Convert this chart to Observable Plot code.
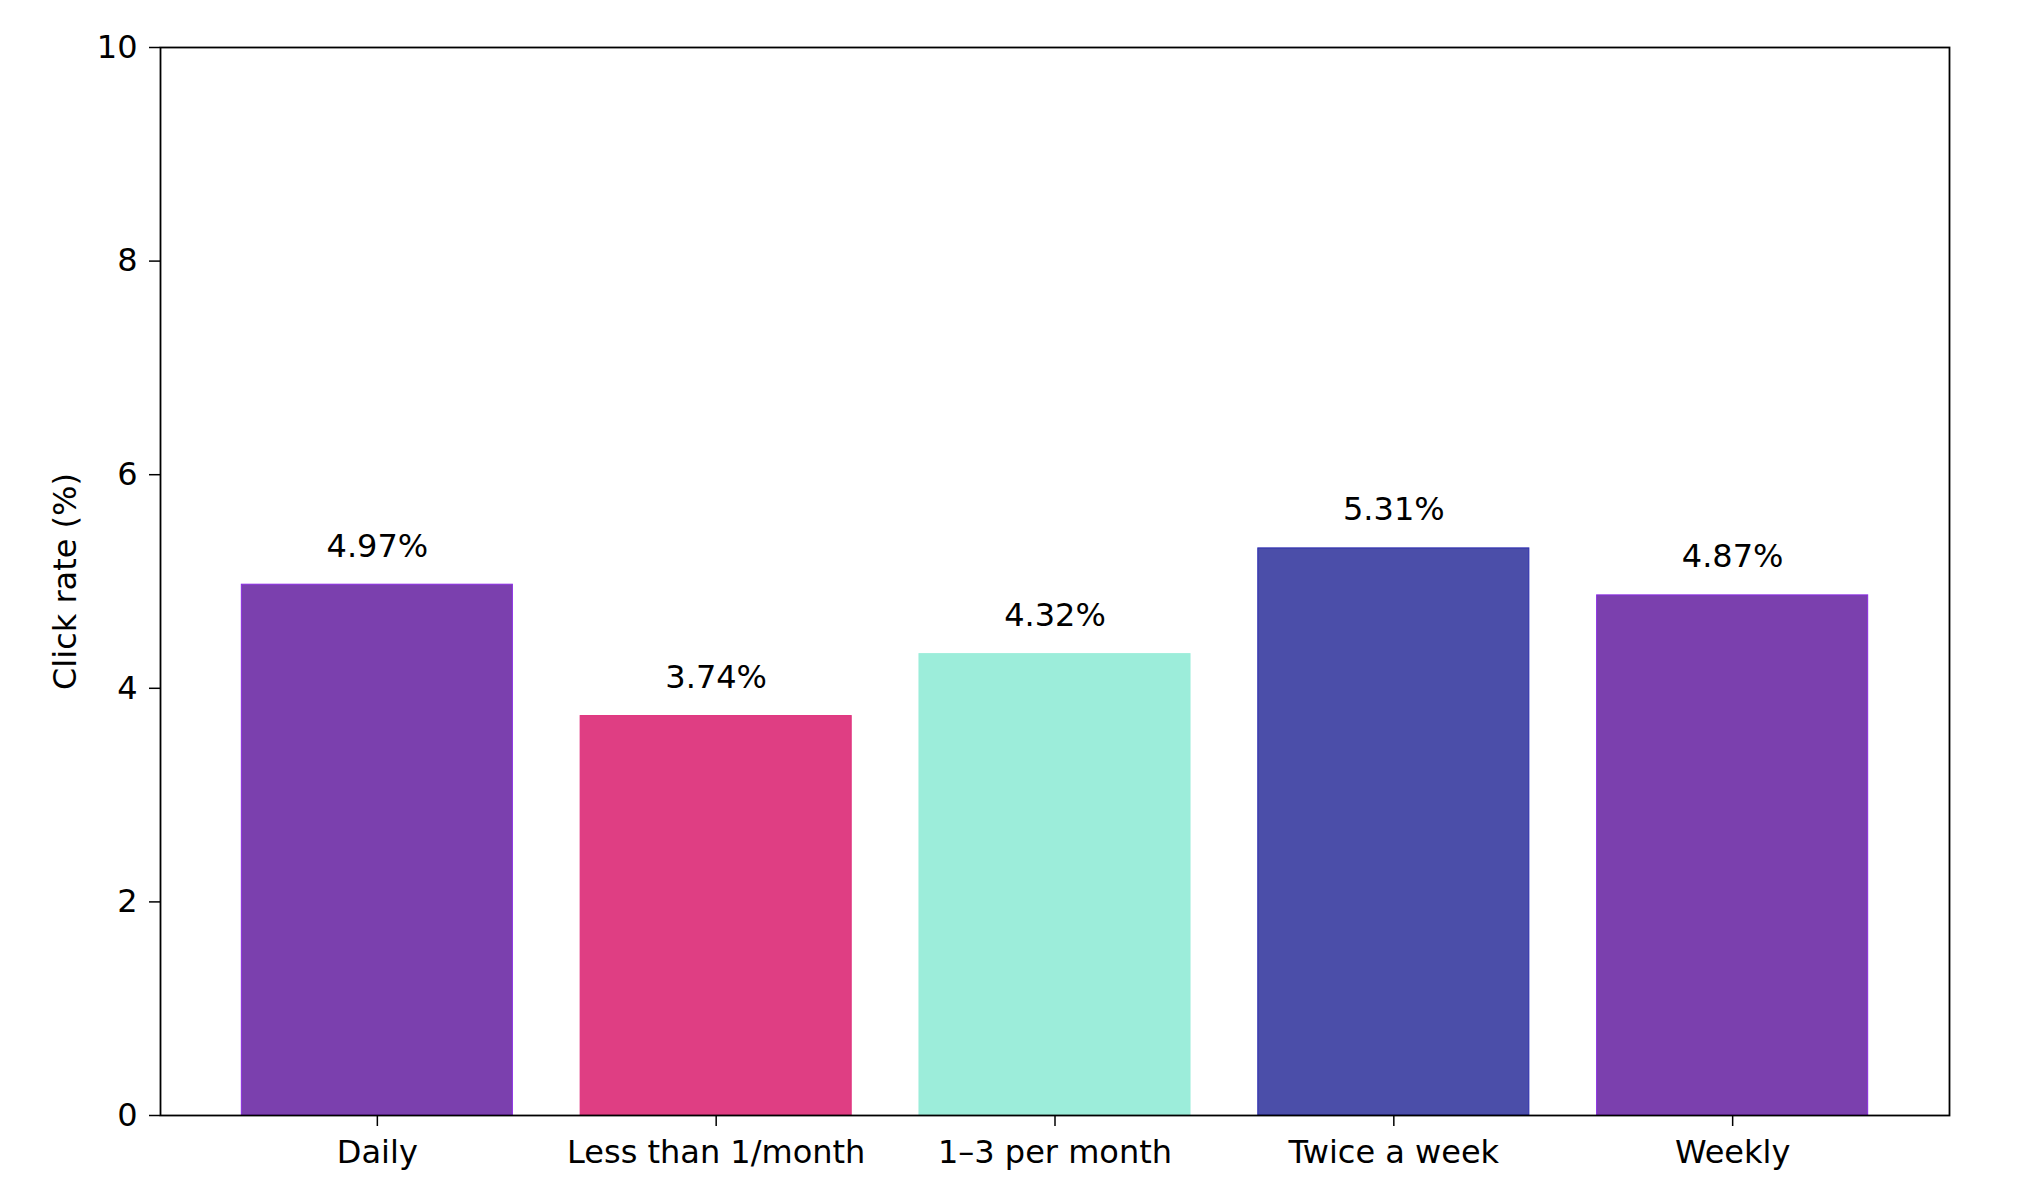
<!DOCTYPE html>
<html>
<head>
<meta charset="utf-8">
<script src="https://cdn.jsdelivr.net/npm/d3@7"></script>
<script src="https://cdn.jsdelivr.net/npm/@observablehq/plot@0.6"></script>
<style>
  html, body { margin: 0; padding: 0; background: #fff; }
  #chart svg { display: block; }
</style>
</head>
<body>
<div id="chart"></div>
<script>
const categories = ["Daily", "Less than 1/month", "1–3 per month", "Twice a week", "Weekly"];
const clickRates = [4.97, 3.74, 4.32, 5.31, 4.87];
const barColors = ["#7b40ae", "#df3e83", "#9cedda", "#4b4ea9", "#7b40ae"];
const edgeColors = ["#8a2be2", "#e0307c", "#9cedda", "#2b2bb0", "#8a2be2"];
const yTicks = [0, 2, 4, 6, 8, 10];
const yLabel = "Click rate (%)";

const data = categories.map((c, i) => ({
  category: c,
  value: clickRates[i],
  fill: barColors[i],
  stroke: edgeColors[i],
  label: clickRates[i].toFixed(2) + "%"
}));

const font = "DejaVu Sans, sans-serif";
const fs = 32;

const chart = Plot.plot({
  width: 2022,
  height: 1204,
  marginLeft: 160,
  marginRight: 73,
  marginTop: 47,
  marginBottom: 89,
  style: { fontFamily: font, fontSize: fs + "px", color: "#000", background: "#fff" },
  x: { domain: categories, paddingInner: 0.2, paddingOuter: 0.24, round: false, label: null },
  y: { domain: [0, 10], label: null },
  marks: [
    Plot.barY(data, {
      x: "category",
      y: "value",
      fill: "fill",
      stroke: "stroke",
      strokeWidth: 1
    }),
    Plot.text(data, {
      x: "category",
      y: "value",
      text: "label",
      lineAnchor: "bottom",
      dy: -28,
      fontSize: fs,
      fill: "#000"
    }),
    Plot.axisY({
      ticks: yTicks,
      tickSize: 11,
      tickPadding: 12,
      tickFormat: d => String(d),
      fontSize: fs,
      label: null,
      strokeWidth: 1.5
    }),
    Plot.axisX({
      tickSize: 11,
      tickPadding: 14,
      fontSize: fs,
      label: null,
      strokeWidth: 1.5
    }),
    Plot.frame({ stroke: "#000", strokeWidth: 1.8 }),
    Plot.text([yLabel], {
      frameAnchor: "left",
      text: d => d,
      rotate: -90,
      dx: -95,
      textAnchor: "middle",
      lineAnchor: "middle",
      fontSize: fs,
      fill: "#000"
    })
  ]
});

document.getElementById("chart").appendChild(chart);
</script>
</body>
</html>
